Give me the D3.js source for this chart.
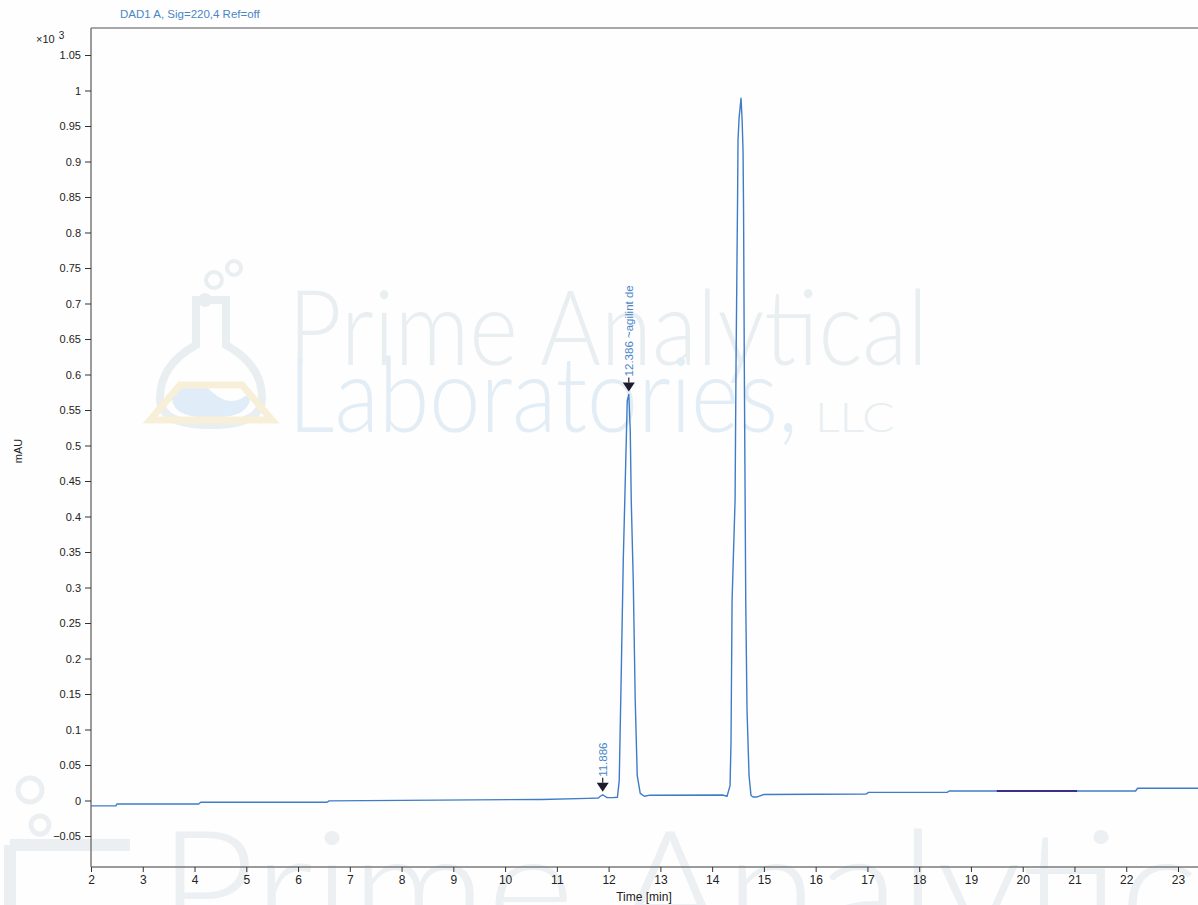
<!doctype html>
<html lang="en">
<head>
    <meta charset="utf-8">
    <title>DAD1 A, Sig=220,4 Ref=off</title>
    <script src="https://cdnjs.cloudflare.com/ajax/libs/d3/7.8.5/d3.min.js"></script>
    <style>
        html, body { margin: 0; padding: 0; background: #fefefe; }
        svg { display: block; font-family: 'Liberation Sans', Arial, sans-serif; }
        .wm { font-family: Lato, 'Open Sans', sans-serif; font-weight: 300; }
    </style>
</head>
<body>
<svg id="chart" width="1198" height="905"></svg>
<script>
    // y ticks (x10^3 mAU) and x ticks (min)
    const yTicks = [-0.05, 0, 0.05, 0.1, 0.15, 0.2, 0.25, 0.3, 0.35, 0.4, 0.45, 0.5,
                    0.55, 0.6, 0.65, 0.7, 0.75, 0.8, 0.85, 0.9, 0.95, 1, 1.05];
    const xTicks = [2, 3, 4, 5, 6, 7, 8, 9, 10, 11, 12, 13, 14, 15, 16, 17, 18, 19, 20, 21, 22, 23];

    // signal trace
    const timeMin = [2.0, 2.48, 2.5, 4.08, 4.12, 6.56, 6.6, 8.7, 10.7, 11.6, 11.8, 11.84, 11.886, 11.93, 11.97,
        12.1, 12.17, 12.205, 12.245, 12.283, 12.322, 12.36, 12.39, 12.418, 12.437, 12.476, 12.514, 12.553,
        12.611, 12.69, 12.8, 14.2, 14.288, 14.346, 14.365, 14.385, 14.443, 14.462, 14.491, 14.5, 14.52,
        14.558, 14.578, 14.597, 14.607, 14.622, 14.649, 14.674, 14.713, 14.751, 14.79, 14.867, 14.925,
        15.0, 16.98, 17.02, 18.54, 18.58, 22.18, 22.22, 23.4];
    const signal = [-0.0075, -0.0075, -0.005, -0.005, -0.0025, -0.0025, -0.0005, 0.0005, 0.0015, 0.003, 0.0035, 0.006, 0.008, 0.006, 0.004,
        0.0042, 0.0045, 0.028, 0.183, 0.338, 0.451, 0.563, 0.572, 0.521, 0.423, 0.31, 0.141, 0.035,
        0.01, 0.006, 0.0075, 0.0077, 0.006, 0.021, 0.0845, 0.282, 0.423, 0.62, 0.845, 0.93, 0.961,
        0.989, 0.961, 0.915, 0.831, 0.606, 0.282, 0.127, 0.035, 0.007, 0.005, 0.005, 0.0065,
        0.0085, 0.0092, 0.0115, 0.0115, 0.0134, 0.0134, 0.0172, 0.0172];

    // darker overdrawn stretch of the baseline
    const darkTime = [19.5, 21.05];
    const darkSignal = [0.0134, 0.0134];

    // peak markers
    const peakTimes = [11.886, 12.39];
    const peakHeights = [0.008, 0.572];
    const peakLabels = ["11.886", "12.386 ~agilint de"];

    const svg = d3.select("#chart");
    const W = 1198, H = 905;
    const plotLeft = 91, plotTop = 28, plotBottom = 867;

    const x = d3.scaleLinear().domain([2, 23]).range([91, 1178]);
    const y = d3.scaleLinear().domain([0, 1]).range([800.5, 90.5]);

    // ---- watermark ----
    const wm = svg.append("g").attr("class", "wm");
    wm.append("text").attr("x", 288).attr("y", 365).attr("font-size", 104)
        .attr("textLength", 640).attr("lengthAdjust", "spacingAndGlyphs")
        .attr("fill", "#e9eef1").text("Prime Analytical");
    wm.append("text").attr("x", 288).attr("y", 432).attr("font-size", 104)
        .attr("textLength", 510).attr("lengthAdjust", "spacingAndGlyphs")
        .attr("fill", "#e3edf5").text("Laboratories,");
    wm.append("text").attr("x", 815).attr("y", 432).attr("font-size", 42)
        .attr("textLength", 80).attr("lengthAdjust", "spacingAndGlyphs")
        .attr("fill", "#e9eef1").text("LLC");
    wm.append("text").attr("x", 158).attr("y", 945).attr("font-size", 160)
        .attr("textLength", 1160).attr("lengthAdjust", "spacingAndGlyphs")
        .attr("fill", "#ecf0f3").text("Prime Analytical");

    // flask logo
    const logo = wm.append("g");
    logo.append("path")
        .attr("d", "M196,300 L196,345 Q160,365 160,398 Q160,425 210,425 Q262,425 262,398 Q262,365 226,345 L226,300 Z")
        .attr("fill", "none").attr("stroke", "#e9eef1").attr("stroke-width", 8);
    logo.append("path")
        .attr("d", "M172,392 Q200,378 212,392 Q232,410 250,392 Q254,418 210,418 Q168,418 172,392 Z")
        .attr("fill", "#e0ecf7");
    logo.append("path")
        .attr("d", "M150,420 L180,385 L242,385 L272,420 Z")
        .attr("fill", "none").attr("stroke", "#f7efd8").attr("stroke-width", 7);
    [[214, 280, 8], [234, 268, 7], [205, 300, 5]].forEach(c => {
        logo.append("circle").attr("cx", c[0]).attr("cy", c[1]).attr("r", c[2])
            .attr("fill", "none").attr("stroke", "#e9eef1").attr("stroke-width", 4);
    });
    [[30, 790, 12], [40, 825, 9]].forEach(c => {
        wm.append("circle").attr("cx", c[0]).attr("cy", c[1]).attr("r", c[2])
            .attr("fill", "none").attr("stroke", "#eceff1").attr("stroke-width", 5);
    });
    wm.append("path").attr("d", "M10,845 L10,905 M10,845 L130,845")
        .attr("fill", "none").attr("stroke", "#eceff1").attr("stroke-width", 12);

    // ---- frame ----
    svg.append("line").attr("x1", plotLeft).attr("x2", W).attr("y1", plotTop).attr("y2", plotTop)
        .attr("stroke", "#8a8a8a").attr("stroke-width", 1.5);

    const yAxis = d3.axisLeft(y).tickValues(yTicks).tickSize(6).tickPadding(4)
        .tickFormat(d => d3.format("~g")(d));
    const gy = svg.append("g").attr("transform", `translate(${plotLeft},0)`).call(yAxis);
    gy.select(".domain").attr("d", `M0,${plotTop}V${plotBottom}`).attr("stroke", "#7a7a7a").attr("stroke-width", 1.5);
    gy.selectAll(".tick line").attr("stroke", "#333");
    gy.selectAll(".tick text").attr("font-size", 11).attr("fill", "#222")
        .attr("font-family", "'Liberation Sans', Arial, sans-serif");

    const xAxis = d3.axisBottom(x).tickValues(xTicks).tickSize(5).tickPadding(3)
        .tickFormat(d3.format("d"));
    const gx = svg.append("g").attr("transform", `translate(0,${plotBottom})`).call(xAxis);
    gx.select(".domain").attr("d", `M${plotLeft},0H${W}`).attr("stroke", "#7a7a7a").attr("stroke-width", 1.5);
    gx.selectAll(".tick line").attr("stroke", "#333");
    gx.selectAll(".tick text").attr("font-size", 12).attr("fill", "#222")
        .attr("font-family", "'Liberation Sans', Arial, sans-serif");

    // axis titles
    svg.append("text").attr("x", 120).attr("y", 18).attr("font-size", 11.5)
        .attr("fill", "#4a86c6").text("DAD1 A, Sig=220,4 Ref=off");
    const mult = svg.append("text").attr("x", 36).attr("y", 43).attr("font-size", 11).attr("fill", "#222");
    mult.append("tspan").text("×10");
    mult.append("tspan").attr("dx", 4).attr("dy", -4).attr("font-size", 10).text("3");
    svg.append("text").attr("transform", "translate(22,451) rotate(-90)")
        .attr("text-anchor", "middle").attr("font-size", 11).attr("fill", "#222").text("mAU");
    svg.append("text").attr("x", 644).attr("y", 901).attr("text-anchor", "middle")
        .attr("font-size", 12).attr("fill", "#222").text("Time [min]");

    // ---- trace ----
    svg.append("clipPath").attr("id", "plot")
        .append("rect").attr("x", plotLeft).attr("y", plotTop).attr("width", W - plotLeft).attr("height", plotBottom - plotTop);

    const line = d3.line().x(d => x(d[0])).y(d => y(d[1]));
    svg.append("path").datum(d3.zip(timeMin, signal))
        .attr("clip-path", "url(#plot)")
        .attr("d", line).attr("fill", "none")
        .attr("stroke", "#3f7cc8").attr("stroke-width", 1.4).attr("stroke-linejoin", "round");
    svg.append("path").datum(d3.zip(darkTime, darkSignal))
        .attr("d", line).attr("fill", "none")
        .attr("stroke", "#3b2f8c").attr("stroke-width", 2.2);

    // ---- peak markers ----
    peakTimes.forEach((t, i) => {
        const px = x(t), py = y(peakHeights[i]) - 3;
        svg.append("path")
            .attr("d", `M${px - 6},${py - 9}L${px + 6},${py - 9}L${px},${py}Z`)
            .attr("fill", "#1c1c2c");
        svg.append("line").attr("x1", px).attr("x2", px).attr("y1", py - 9).attr("y2", py - 14)
            .attr("stroke", "#1c1c2c").attr("stroke-width", 1.2);
        svg.append("text").attr("transform", `translate(${px + 4},${py - 15}) rotate(-90)`)
            .attr("font-size", 11.5).attr("fill", "#4a86c6").text(peakLabels[i]);
    });
</script>
</body>
</html>
